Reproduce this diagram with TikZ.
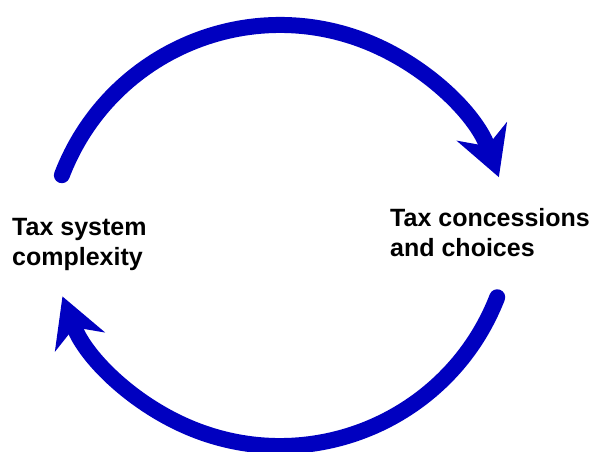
\documentclass[tikz,border=0pt]{standalone}
\usepackage{fontspec}
\setmainfont{Liberation Sans}
\usetikzlibrary{arrows.meta, positioning, calc}
\definecolor{loopblue}{RGB}{0,0,192}

\begin{document}
\begin{tikzpicture}[
  x=1pt, y=1pt,
  loopline/.style={line width=16pt, draw=loopblue, line cap=round,
    -{Stealth[length=49pt, width=54pt, inset=16pt, line width=0pt, fill=loopblue]}},
  looptext/.style={align=left, inner sep=0pt, anchor=base west,
    font=\fontsize{25}{29.5}\selectfont\bfseries}
]
\useasboundingbox (0,0) rectangle (591,451);

% Labels
\node[looptext] (complexity) at (12,186) {Tax system\\complexity};
\node[looptext] (concessions) at (390,195) {Tax concessions\\and choices};

% Upper loop
\coordinate (upcentre) at (280,192.5);
\coordinate (upstart) at ($(upcentre)+(159.1:233.5pt)$);
\draw[loopline] (upstart) arc[start angle=159.1, end angle=20.4, radius=233.5pt];

% Lower loop
\coordinate (lowcentre) at (280,238);
\coordinate (lowstart) at ($(lowcentre)+(-21.2:233pt)$);
\draw[loopline] (lowstart) arc[start angle=-21.2, end angle=-159, radius=233pt];

\end{tikzpicture}
\end{document}
